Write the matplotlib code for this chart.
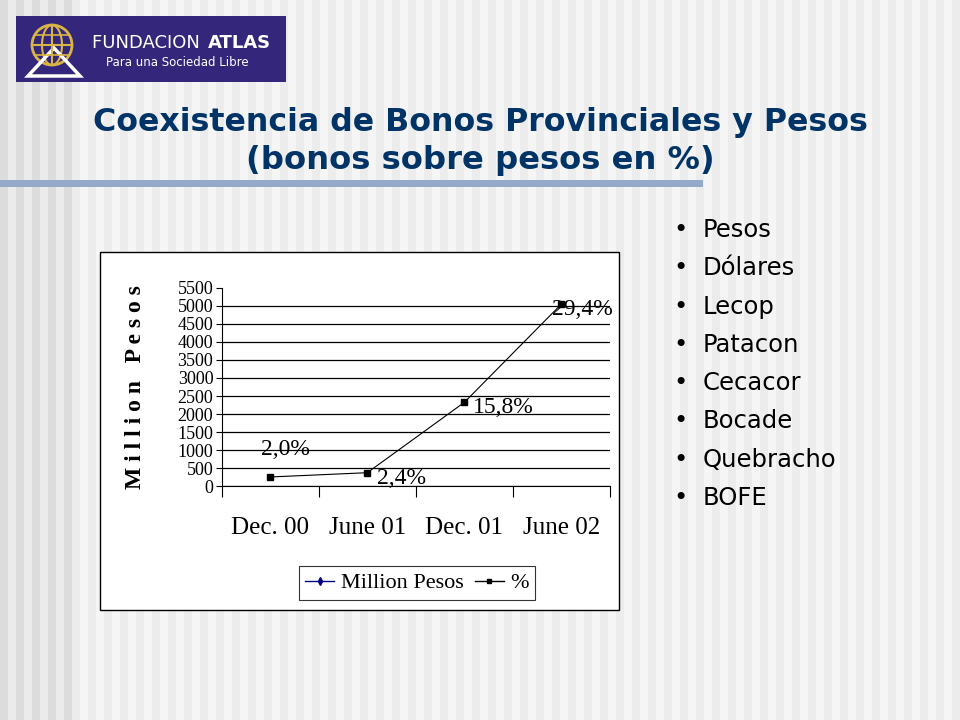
import matplotlib.pyplot as plt
import matplotlib.patches as mpatches
from matplotlib.lines import Line2D
import numpy as np

# data
periods = ["Dec. 00", "June 01", "Dec. 01", "June 02"]
million_pesos = [258, 377, 2326, 5048]
pct_labels = ["2,0%", "2,4%", "15,8%", "29,4%"]
yticks = [0, 500, 1000, 1500, 2000, 2500, 3000, 3500, 4000, 4500, 5000, 5500]
bullets = ["Pesos", "Dólares", "Lecop", "Patacon", "Cecacor", "Bocade", "Quebracho", "BOFE"]

W, H = 960, 720
fig = plt.figure(figsize=(W / 100, H / 100), dpi=100)

# slide background (vertical stripes)
bg = fig.add_axes([0, 0, 1, 1])
bg.set_xlim(0, W)
bg.set_ylim(H, 0)
bg.axis("off")
for x in range(0, W, 8):
    k = (x // 8) % 2
    if x < 72:
        c = "#dcdcdc" if k == 0 else "#ebebeb"
    else:
        c = "#f5f5f5" if k == 0 else "#ececec"
    bg.add_patch(mpatches.Rectangle((x, 0), 8, H, color=c, lw=0))

# logo
bg.add_patch(mpatches.Rectangle((16, 16), 270, 66, color="#34267a", lw=0))
bg.add_patch(mpatches.Circle((52, 45), 20, fill=False, ec="#d9b545", lw=2))
bg.add_patch(mpatches.Ellipse((52, 45), 20, 40, fill=False, ec="#d9b545", lw=1.5))
bg.plot([32, 72], [45, 45], color="#d9b545", lw=1.5)
bg.plot([52, 52], [25, 65], color="#d9b545", lw=1.5)
bg.plot([35, 69], [35, 35], color="#d9b545", lw=1.2)
bg.plot([35, 69], [55, 55], color="#d9b545", lw=1.2)
bg.add_patch(mpatches.Polygon([[28, 76], [54, 48], [80, 76]], closed=True,
                              fill=False, ec="white", lw=2.5))
bg.text(92, 43, "FUNDACION ", color="white", fontsize=13, va="center", ha="left",
        family="DejaVu Sans")
bg.text(208, 43, "ATLAS", color="white", fontsize=13, va="center", ha="left",
        fontweight="bold", family="DejaVu Sans")
bg.text(106, 62, "Para una Sociedad Libre", color="white", fontsize=8.5,
        va="center", ha="left", family="DejaVu Sans")

# title
bg.text(480, 123, "Coexistencia de Bonos Provinciales y Pesos", color="#003366",
        fontsize=22.8, fontweight="bold", ha="center", va="center", family="DejaVu Sans")
bg.text(480, 161, "(bonos sobre pesos en %)", color="#003366",
        fontsize=23.2, fontweight="bold", ha="center", va="center", family="DejaVu Sans")
bg.add_patch(mpatches.Rectangle((0, 180), 703, 7, color="#95a9c8", lw=0))

# chart frame
bg.add_patch(mpatches.Rectangle((100, 252), 519, 358, fc="white", ec="black", lw=1))

# bullets
for i, b in enumerate(bullets):
    y = 230 + i * 38.3
    bg.text(673, y, "•", fontsize=17.5, va="center", ha="left", family="DejaVu Sans")
    bg.text(703, y, b, fontsize=17.5, va="center", ha="left", family="DejaVu Sans")

# chart
ax = fig.add_axes([221.7 / W, 1 - 486.3 / H, 388.3 / W, 198.6 / H])
x = np.arange(len(periods)) + 0.5
ax.plot(x, million_pesos, color="black", lw=0.8, marker="s", ms=4)
ax.set_xlim(0, len(periods))
ax.set_ylim(0, 5500)
ax.set_yticks(yticks)
ax.set_yticklabels([str(v) for v in yticks], family="Liberation Serif", fontsize=13)
ax.set_xticks(np.arange(len(periods) + 1))
ax.set_xticklabels([])
ax.set_xticks(x, minor=True)
ax.set_xticklabels(periods, minor=True, family="Liberation Serif", fontsize=18)
ax.tick_params(axis="x", which="minor", length=0, pad=22)
ax.tick_params(axis="x", which="major", length=8, direction="out")
ax.tick_params(axis="y", length=4, pad=2)
ax.yaxis.grid(True, color="black", lw=0.9)
ax.get_ygridlines()[-1].set_visible(False)
ax.spines["top"].set_visible(False)
ax.spines["right"].set_visible(False)
ax.set_axisbelow(True)

offsets = [(-7, 20), (7, -4), (6, -4), (-7, -4)]
for xi, yi, lab, off in zip(x, million_pesos, pct_labels, offsets):
    ax.annotate(lab, (xi, yi), xytext=off, textcoords="offset points",
                family="Liberation Serif", fontsize=17, ha="left", va="center")

ax.set_ylabel("M i l l i o n   P e s o s", family="Liberation Serif", fontsize=17,
              fontweight="bold")
ax.yaxis.set_label_coords((146 - 221.7) / 388.3, 0.5)

h1 = Line2D([], [], color="#000080", marker="d", ms=4, lw=1)
h2 = Line2D([], [], color="black", marker="s", ms=3, lw=1)
leg = fig.legend([h1, h2], ["Million Pesos", "%"], loc="center",
                 bbox_to_anchor=(417 / W, 1 - 583 / H), ncol=2,
                 prop={"family": "Liberation Serif", "size": 16},
                 frameon=True, fancybox=False, edgecolor="black",
                 handlelength=1.3, handletextpad=0.3, columnspacing=0.5,
                 borderpad=0.3)
leg.get_frame().set_linewidth(0.8)

fig.savefig("out.png", dpi=100)
